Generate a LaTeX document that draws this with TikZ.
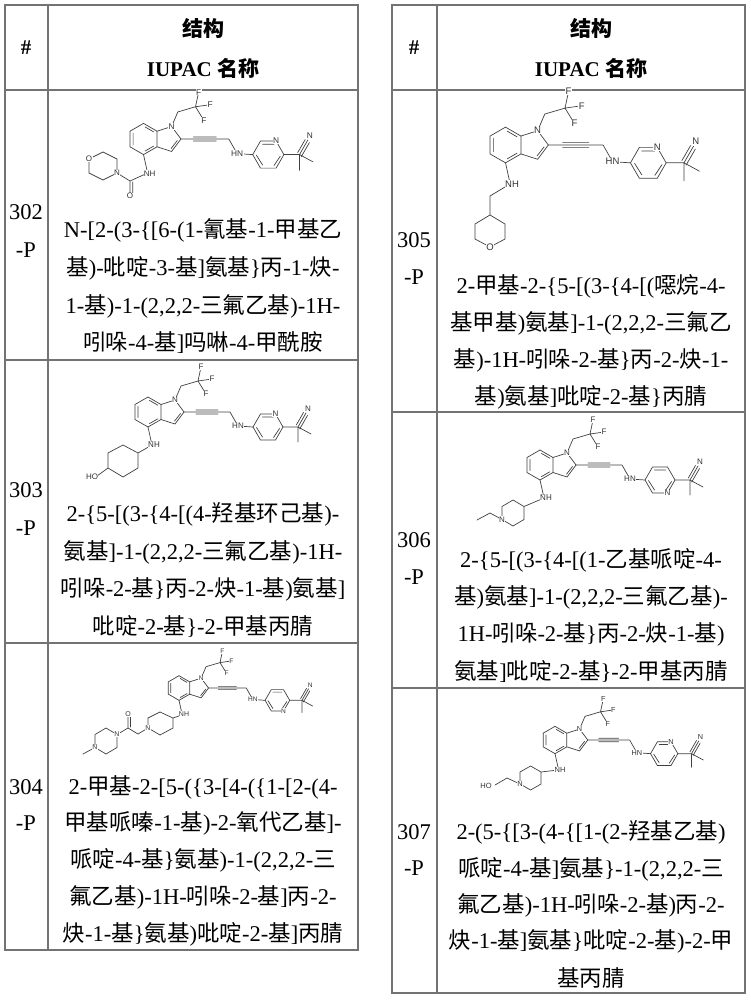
\documentclass[tikz,border=0pt]{standalone}
\usepackage{fontspec}
\setmainfont{Liberation Serif}
\newfontfamily\cjk[Scale=1.0]{Noto Sans CJK SC}
\newfontfamily\chemf{Liberation Sans}
\XeTeXinterchartokenstate=1
\newXeTeXintercharclass\CJKcls
\count255="3000
\loop \XeTeXcharclass\count255=\CJKcls \ifnum\count255<"9FFF \advance\count255 1 \repeat
\XeTeXinterchartoks 0 \CJKcls = {\begingroup\cjk}
\XeTeXinterchartoks 4095 \CJKcls = {\begingroup\cjk}
\XeTeXinterchartoks \CJKcls 0 = {\endgroup}
\XeTeXinterchartoks \CJKcls 4095 = {\endgroup}
\tikzset{
 bond/.style={line width=0.7pt, black!75, line cap=round},
 atom/.style={font=\fontsize{8}{8}\chemf, fill=white, inner sep=0.4pt, text=black!80},
 grid/.style={line width=1.3pt, black!55},
 nm/.style={font=\fontsize{22.5}{22}\selectfont, inner sep=0pt},
 hd/.style={font=\fontsize{21}{21}\selectfont\bfseries, inner sep=0pt},
}
\newcommand\core[5]{%
\begin{scope}[shift={(#1,#2)}, scale=#3, transform shape]
 \draw[bond] (13,-7.5)--(0,-15)--(-13,-7.5)--(-13,7.5)--(0,15)--(13,7.5)--cycle;
 \draw[bond] (-10,-5.6)--(-10,5.6) (1.5,-11.6)--(9.8,-6.8) (1.5,11.6)--(9.8,6.8);
 \draw[bond] (13,-7.5)--(27,-12)--(36,0)--(27,12)--(13,7.5) (32.5,1.5)--(26.5,9.2);
 \draw[bond] (27,-12)--(33,-26)--(50,-31) (50,-31)--(53,-45) (50,-31)--(64,-33) (50,-31)--(58,-18);
 \draw[bond] (36,0)--(82,0) (48,-2)--(70,-2) (48,2)--(70,2) (82,0)--(90,14)--(105,15);
 \draw[bond] (105,15)--(112.5,2)--(127.5,2)--(135,15)--(127.5,28)--(112.5,28)--cycle;
 \draw[bond] (114.5,5)--(125.5,5) (131.5,16.5)--(125.5,25.5) (114.5,25)--(108.5,15.5);
 \draw[bond] (135,15)--(150,15)--(163,22) (150,15)--(150,30) (150,15)--(158,1)
   (148.3,13)--(155.5,0.5) (151.7,17)--(159.5,3.5);
 \draw[bond] (0,15)--(4,33);
 \node[atom] (#5n1) at (27,-12) {N};
 \node[atom] (#5fa) at (53,-45) {F};
 \node[atom] (#5fb) at (64,-33) {F};
 \node[atom] (#5fc) at (58,-18) {F};
 \node[atom] (#5hn) at (90,14) {HN};
 \node[atom] (#5np) at (#4) {N};
 \node[atom] (#5cn) at (160,-3) {N};
 \node[atom] (#5nh) at (6,33) {NH};
\end{scope}}
\begin{document}
\begin{tikzpicture}[x=1pt,y=-1pt]
\useasboundingbox (0,0) rectangle (751,1000);
% tables
\draw[grid] (5,5) rectangle (358,950);
\draw[grid] (48,5)--(48,950) (5,90)--(358,90) (5,360)--(358,360) (5,643)--(358,643);
\draw[grid] (392,5) rectangle (745,993);
\draw[grid] (437,5)--(437,993) (392,90)--(745,90) (392,412)--(745,412) (392,688)--(745,688);
% headers
\node[hd] (h1) at (26,48) {\#};
\node[hd] (h2) at (203,28) {结构};
\node[hd] (h3) at (203,68) {IUPAC 名称};
\node[hd] (h4) at (414,48) {\#};
\node[hd] (h5) at (591,28) {结构};
\node[hd] (h6) at (591,68) {IUPAC 名称};
% numbers
\node[nm] (r302) at (26,212) {302}; \node[nm] (p302) at (26,250) {-P};
\node[nm] (r303) at (26,490) {303}; \node[nm] (p303) at (26,528) {-P};
\node[nm] (r304) at (26,787) {304}; \node[nm] (p304) at (26,823) {-P};
\node[nm] (r305) at (414,240) {305}; \node[nm] (p305) at (414,277) {-P};
\node[nm] (r306) at (414,540) {306}; \node[nm] (p306) at (414,577) {-P};
\node[nm] (r307) at (414,832) {307}; \node[nm] (p307) at (414,868) {-P};
% names
\node[nm] (a1) at (203,230) {N-[2-(3-\{[6-(1-氰基-1-甲基乙};
\node[nm] (a2) at (203,268) {基)-吡啶-3-基]氨基\}丙-1-炔-};
\node[nm] (a3) at (203,306) {1-基)-1-(2,2,2-三氟乙基)-1H-};
\node[nm] (a4) at (203,343) {吲哚-4-基]吗啉-4-甲酰胺};
\node[nm] (b1) at (203,514) {2-\{5-[(3-\{4-[(4-羟基环己基)-};
\node[nm] (b2) at (203,552) {氨基]-1-(2,2,2-三氟乙基)-1H-};
\node[nm] (b3) at (203,589) {吲哚-2-基\}丙-2-炔-1-基)氨基]};
\node[nm] (b4) at (203,626) {吡啶-2-基\}-2-甲基丙腈};
\node[nm] (c1) at (203,787) {2-甲基-2-[5-(\{3-[4-(\{1-[2-(4-};
\node[nm] (c2) at (203,823) {甲基哌嗪-1-基)-2-氧代乙基]-};
\node[nm] (c3) at (203,860) {哌啶-4-基\}氨基)-1-(2,2,2-三};
\node[nm] (c4) at (203,897) {氟乙基)-1H-吲哚-2-基]丙-2-};
\node[nm] (c5) at (203,934) {炔-1-基\}氨基)吡啶-2-基]丙腈};
\node[nm] (d1) at (591,286) {2-甲基-2-\{5-[(3-\{4-[(噁烷-4-};
\node[nm] (d2) at (591,323) {基甲基)氨基]-1-(2,2,2-三氟乙};
\node[nm] (d3) at (591,360) {基)-1H-吲哚-2-基\}丙-2-炔-1-};
\node[nm] (d4) at (591,397) {基)氨基]吡啶-2-基\}丙腈};
\node[nm] (e1) at (591,560) {2-\{5-[(3-\{4-[(1-乙基哌啶-4-};
\node[nm] (e2) at (591,597) {基)氨基]-1-(2,2,2-三氟乙基)-};
\node[nm] (e3) at (591,634) {1H-吲哚-2-基\}丙-2-炔-1-基)};
\node[nm] (e4) at (591,671) {氨基]吡啶-2-基\}-2-甲基丙腈};
\node[nm] (f1) at (591,832) {2-(5-\{[3-(4-\{[1-(2-羟基乙基)};
\node[nm] (f2) at (591,869) {哌啶-4-基]氨基\}-1-(2,2,2-三};
\node[nm] (f3) at (591,905) {氟乙基)-1H-吲哚-2-基)丙-2-};
\node[nm] (f4) at (591,941) {炔-1-基]氨基\}吡啶-2-基)-2-甲};
\node[nm] (f5) at (591,978) {基丙腈};
% structures
\core{143.5}{139}{1.04}{127.5,2}{s2}
\draw[bond] (147.7,173)--(130,181)--(117,173)--(117,159)--(103,152)--(89,159)--(89,173)--(103,180)--(117,173)
  (130,181)--(130,194) (132.8,182)--(132.8,193);
\node[atom] (m2o) at (89,159) {O}; \node[atom] (m2n) at (117,173) {N}; \node[atom] (m2c) at (130,196) {O};
\node[atom] (m2h) at (149.7,173.3) {NH};
\core{148}{412}{1.0}{127.5,2}{s3}
\draw[bond] (152,445)--(138,453) (138,453)--(123,445)--(108,453)--(108,468)--(123,477)--(138,468)--(138,453) (108,468)--(97,476);
\node[atom] (m3o) at (92,477) {HO}; \node[atom] (m3h) at (154,445) {NH};
\core{179}{688}{0.82}{127.5,28}{s4}
\draw[bond] (182,715)--(173,718)--(160,712)--(148,718)--(148,728)--(160,735)--(173,728)--(173,718)
  (148,728)--(138,734)--(128,728)--(117,734.5)--(117,747.5)--(106,754)--(95,747.5)--(95,734.5)--(106,728)--(117,734.5)
  (128,728)--(128,716) (130.5,727)--(130.5,717) (95,747.5)--(83,754);
\node[atom,font=\fontsize{7}{7}\chemf] (m4a) at (148,728) {N};
\node[atom,font=\fontsize{7}{7}\chemf] (m4b) at (117,734.5) {N};
\node[atom,font=\fontsize{7}{7}\chemf] (m4c) at (95,747.5) {N};
\node[atom,font=\fontsize{7}{7}\chemf] (m4d) at (128,714) {O};
\node[atom,font=\fontsize{7}{7}\chemf] (m4h) at (184,714) {NH};
\core{505.5}{145}{1.19}{127.5,2}{s5}
\draw[bond] (510,184)--(490,196)--(490,215)--(505,224)--(505,239)--(490,247)--(475,239)--(475,224)--(490,215);
\node[atom,font=\fontsize{9.5}{9}\chemf] (m5o) at (490,247) {O};
\node[atom,font=\fontsize{9.5}{9}\chemf] (m5h) at (512,184) {NH};
\core{540}{465}{1.0}{127.5,28}{s6}
\draw[bond] (544,498)--(524,506.5)--(513,500)--(502,506.5)--(502,519.5)--(513,526)--(524,519.5)--(524,506.5)
  (502,519.5)--(490,513)--(477,520);
\node[atom] (m6n) at (502,519.5) {N}; \node[atom] (m6h) at (546,498) {NH};
\core{555}{740}{0.91}{127.5,2}{s7}
\draw[bond] (558,770)--(541,772)--(530.6,766)--(520,772)--(520,784)--(530.6,790)--(541,784)--(541,772)
  (520,784)--(507,778)--(495,785);
\node[atom,font=\fontsize{7.5}{7}\chemf] (m7n) at (520,784) {N};
\node[atom,font=\fontsize{7.5}{7}\chemf] (m7o) at (486,786) {HO};
\node[atom,font=\fontsize{7.5}{7}\chemf] (m7h) at (560,770) {NH};
\end{tikzpicture}
\end{document}
